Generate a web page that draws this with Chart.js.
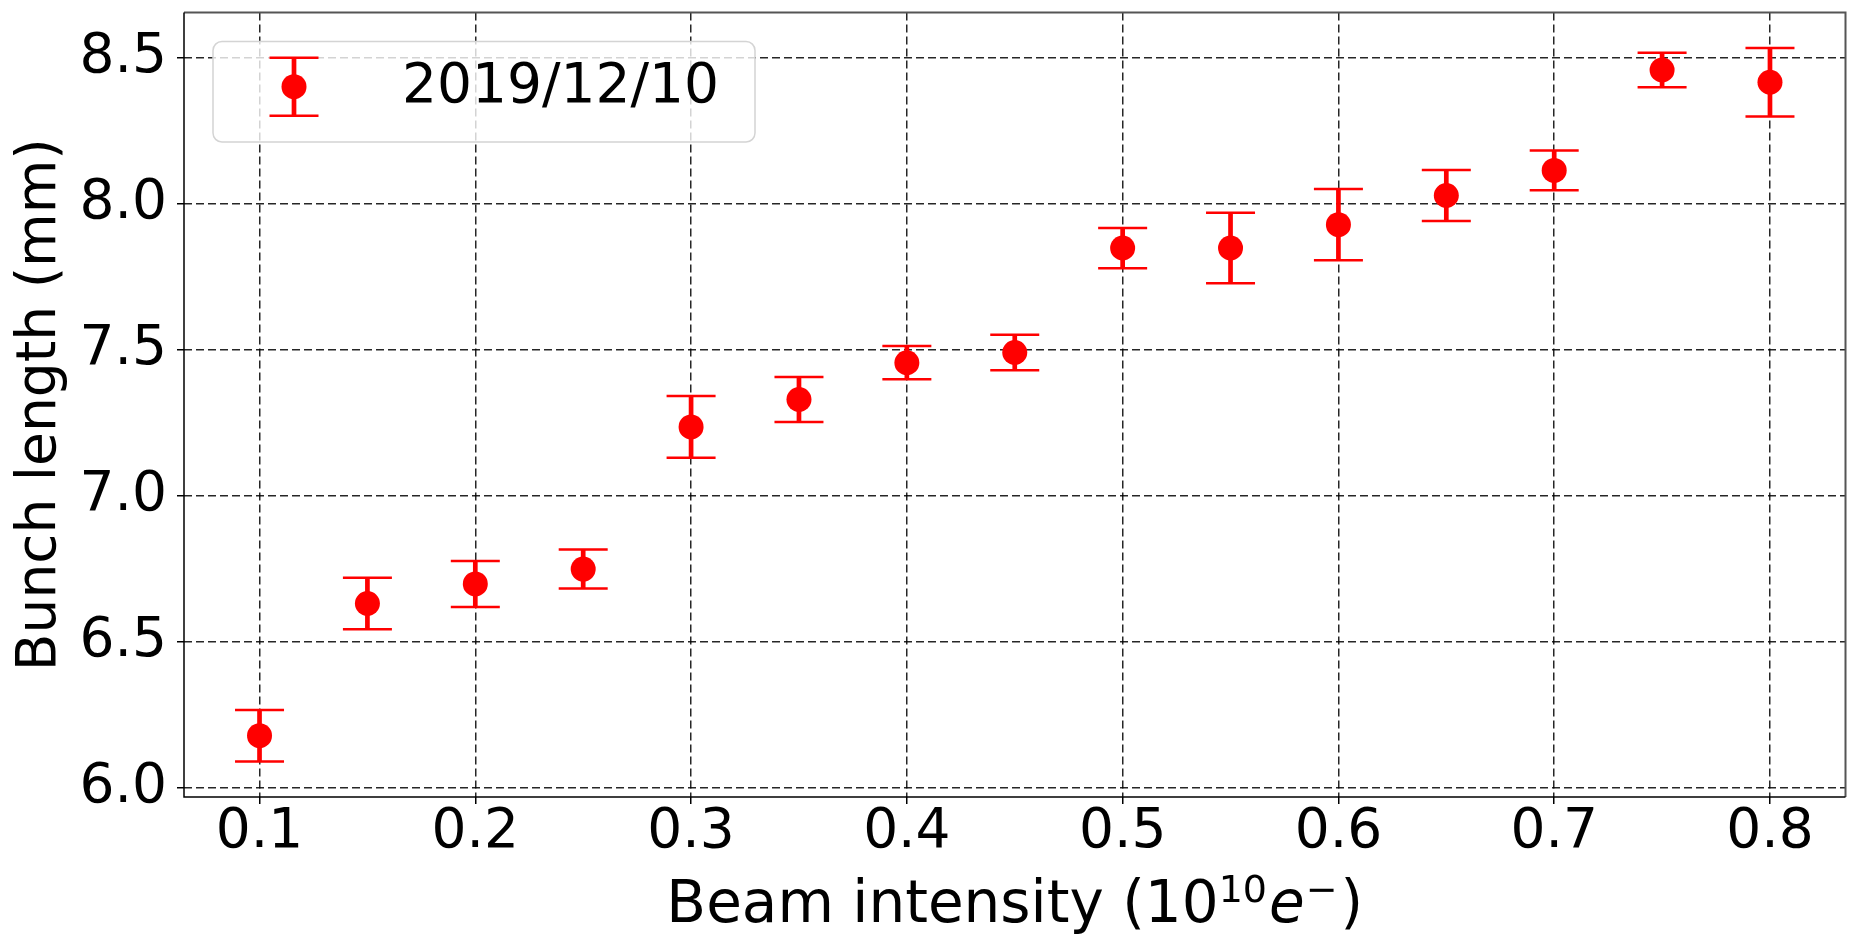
<!DOCTYPE html>
<html>
<head>
<meta charset="utf-8">
<title>Bunch length vs beam intensity</title>
<script src="https://cdn.jsdelivr.net/npm/chart.js@4.4.1/dist/chart.umd.min.js"></script>
<style>
  html, body { margin: 0; padding: 0; background: #fff; }
  #wrap { width: 1858px; height: 935px; position: relative; }
</style>
</head>
<body>
<div id="wrap"><canvas id="bunchChart"></canvas></div>
<script>
// Bunch length measured at each beam intensity, symmetric error bars
const seriesLabel = '2019/12/10';
const intensity = [0.1, 0.15, 0.2, 0.25, 0.3, 0.35, 0.4, 0.45, 0.5, 0.55, 0.6, 0.65, 0.7, 0.75, 0.8];
const bunchLength = [6.178, 6.631, 6.698, 6.749, 7.236, 7.330, 7.456, 7.491, 7.849, 7.849, 7.929, 8.029, 8.115, 8.459, 8.417];
const lengthError = [0.088, 0.088, 0.079, 0.067, 0.106, 0.077, 0.057, 0.061, 0.069, 0.121, 0.122, 0.087, 0.068, 0.059, 0.117];
const xTicks = [0.1, 0.2, 0.3, 0.4, 0.5, 0.6, 0.7, 0.8];
const yTicks = [6.0, 6.5, 7.0, 7.5, 8.0, 8.5];

const RED = '#ff0000';
const FONT = "'DejaVu Sans'";
const FONT_SIZE = 55;
const CAP = 24.5;

Chart.defaults.font.family = FONT;
Chart.defaults.color = '#000';

// vertical bars + caps, under the markers
const errorBars = {
  id: 'errorBars',
  beforeDatasetsDraw(chart) {
    const { ctx, scales: { x, y } } = chart;
    ctx.save();
    ctx.strokeStyle = RED;
    intensity.forEach((v, i) => {
      const px = x.getPixelForValue(v);
      const top = y.getPixelForValue(bunchLength[i] + lengthError[i]);
      const bot = y.getPixelForValue(bunchLength[i] - lengthError[i]);
      ctx.lineWidth = 4.7;
      ctx.beginPath();
      ctx.moveTo(px, top);
      ctx.lineTo(px, bot);
      ctx.stroke();
      ctx.lineWidth = 2.5;
      ctx.beginPath();
      ctx.moveTo(px - CAP, top); ctx.lineTo(px + CAP, top);
      ctx.moveTo(px - CAP, bot); ctx.lineTo(px + CAP, bot);
      ctx.stroke();
    });
    ctx.restore();
  }
};

// box around the plot area
const frame = {
  id: 'frame',
  afterDatasetsDraw(chart) {
    const { ctx, chartArea: a } = chart;
    ctx.save();
    ctx.lineWidth = 2;
    ctx.strokeStyle = '#555';
    ctx.beginPath();
    ctx.moveTo(a.left, a.top); ctx.lineTo(a.right, a.top); ctx.lineTo(a.right, a.bottom);
    ctx.stroke();
    ctx.lineWidth = 1.5;
    ctx.strokeStyle = '#000';
    ctx.beginPath();
    ctx.moveTo(a.left, a.top); ctx.lineTo(a.left, a.bottom); ctx.lineTo(a.right, a.bottom);
    ctx.stroke();
    ctx.restore();
  }
};

// legend box in the upper left, with an errorbar glyph
const legendBox = {
  id: 'legendBox',
  afterDraw(chart) {
    const ctx = chart.ctx;
    const bx = 213, by = 41.5, bw = 542, bh = 100.5;
    ctx.save();
    ctx.beginPath();
    ctx.roundRect(bx, by, bw, bh, 9);
    ctx.fillStyle = 'rgba(255,255,255,0.8)';
    ctx.fill();
    ctx.lineWidth = 1.5;
    ctx.strokeStyle = '#d4d4d4';
    ctx.stroke();

    const mx = 294, my = 86.7;
    ctx.strokeStyle = RED;
    ctx.lineWidth = 4.7;
    ctx.beginPath();
    ctx.moveTo(mx, my - 29); ctx.lineTo(mx, my + 29);
    ctx.stroke();
    ctx.lineWidth = 2.5;
    ctx.beginPath();
    ctx.moveTo(mx - CAP, my - 29); ctx.lineTo(mx + CAP, my - 29);
    ctx.moveTo(mx - CAP, my + 29); ctx.lineTo(mx + CAP, my + 29);
    ctx.stroke();
    ctx.fillStyle = RED;
    ctx.beginPath();
    ctx.arc(mx, my, 12.5, 0, Math.PI * 2);
    ctx.fill();

    ctx.fillStyle = '#000';
    ctx.font = `${FONT_SIZE}px ${FONT}`;
    ctx.textAlign = 'left';
    ctx.textBaseline = 'middle';
    ctx.fillText(chart.data.datasets[0].label, 402, 88);
    ctx.restore();
  }
};

// x axis title with the 10^10 e^- units
const xTitle = {
  id: 'xTitle',
  afterDraw(chart) {
    const ctx = chart.ctx;
    const a = chart.chartArea;
    const size = 58;
    const main = `${size}px ${FONT}`;
    const sup = `${Math.round(size * 0.66)}px ${FONT}`;
    const ital = `italic ${size}px ${FONT}`;
    const parts = [
      { text: 'Beam intensity (10', font: main, dy: 0, gap: 0 },
      { text: '10', font: sup, dy: -20, gap: 2 },
      { text: 'e', font: ital, dy: 0, gap: 1 },
      { text: '\u2212', font: sup, dy: -20, gap: 3 },
      { text: ')', font: main, dy: 0, gap: 0 }
    ];
    ctx.save();
    ctx.fillStyle = '#000';
    ctx.textAlign = 'left';
    ctx.textBaseline = 'alphabetic';
    let total = 0;
    parts.forEach(p => { ctx.font = p.font; p.w = ctx.measureText(p.text).width; total += p.w + p.gap; });
    let x = (a.left + a.right) / 2 - total / 2;
    const base = 922;
    parts.forEach(p => {
      ctx.font = p.font;
      ctx.fillText(p.text, x, base + p.dy);
      x += p.w + p.gap;
    });
    ctx.restore();
  }
};

const ctx = document.getElementById('bunchChart').getContext('2d');
new Chart(ctx, {
  type: 'scatter',
  data: {
    datasets: [{
      label: seriesLabel,
      data: intensity.map((v, i) => ({ x: v, y: bunchLength[i] })),
      pointRadius: 12.5,
      pointHoverRadius: 12.5,
      backgroundColor: RED,
      borderWidth: 0,
      showLine: false
    }]
  },
  options: {
    responsive: true,
    maintainAspectRatio: false,
    devicePixelRatio: 1,
    animation: false,
    layout: { padding: { top: 12, right: 5, left: 0, bottom: 0 } },
    plugins: {
      legend: { display: false },
      tooltip: { enabled: false }
    },
    scales: {
      x: {
        type: 'linear',
        min: 0.065,
        max: 0.835,
        afterBuildTicks: s => { s.ticks = xTicks.map(v => ({ value: v })); },
        afterFit: s => { s.height = 138; s.paddingLeft = 0; s.paddingRight = 0; },
        ticks: {
          font: { size: FONT_SIZE, lineHeight: 1 },
          color: '#000',
          padding: 1,
          maxRotation: 0,
          autoSkip: false,
          callback: v => v.toFixed(1)
        },
        grid: {
          color: 'rgba(0,0,0,0.85)',
          lineWidth: 1.5,
          tickLength: 7,
          tickColor: '#000',
          tickWidth: 1.5,
          tickBorderDash: []
        },
        border: { display: false, dash: [8, 4] },
        title: { display: false }
      },
      y: {
        type: 'linear',
        min: 5.968,
        max: 8.656,
        afterBuildTicks: s => { s.ticks = yTicks.map(v => ({ value: v })); },
        afterFit: s => { s.width = 184; s.paddingTop = 0; s.paddingBottom = 0; },
        ticks: {
          font: { size: FONT_SIZE },
          color: '#000',
          padding: 10,
          autoSkip: false,
          callback: v => v.toFixed(1)
        },
        grid: {
          color: 'rgba(0,0,0,0.85)',
          lineWidth: 1.5,
          tickLength: 7,
          tickColor: '#000',
          tickWidth: 1.5,
          tickBorderDash: []
        },
        border: { display: false, dash: [8, 4] },
        title: {
          display: true,
          text: 'Bunch length (mm)',
          color: '#000',
          font: { size: FONT_SIZE, lineHeight: 1.2 },
          padding: { top: 8, bottom: 0 }
        }
      }
    }
  },
  plugins: [errorBars, frame, legendBox, xTitle]
});
</script>
</body>
</html>
